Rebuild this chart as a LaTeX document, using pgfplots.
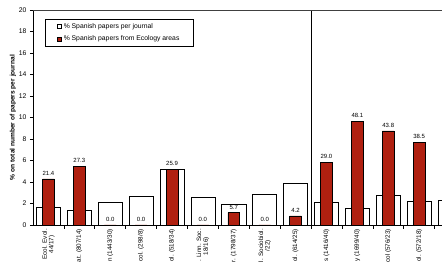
\documentclass[border=0pt]{standalone}
\usepackage{pgfplots}
\pgfplotsset{compat=1.18}
\usepackage{pgfplotstable}
\usepackage{fontspec}
\setmainfont{Liberation Sans}
\definecolor{barred}{RGB}{176,32,16}

\pgfplotstableread{
x w
0 1.64
1 1.36
2 2.07
3 2.69
4 5.20
5 2.56
6 1.94
7 2.84
8 3.86
9 2.15
10 1.55
11 2.75
12 2.25
13 2.30
}\whitedata

\pgfplotstableread{
x h lab
0 4.28 21.4
1 5.46 27.3
2 0.00 0.0
3 0.00 0.0
4 5.18 25.9
5 0.00 0.0
6 1.14 5.7
7 0.00 0.0
8 0.84 4.2
9 5.80 29.0
10 9.62 48.1
11 8.76 43.8
12 7.70 38.5
}\reddata

\begin{document}
\begin{tikzpicture}
\begin{axis}[
  at={(0pt,0pt)}, anchor=south west,
  scale only axis, width=409pt, height=215pt,
  xmin=-0.5, xmax=12.74, ymin=0, ymax=20,
  axis lines*=left, axis line style={-, line width=0.7pt, black},
  ytick={0,2,...,20},
  tick align=outside, major tick length=3pt,
  xtick={0,...,12},
  xticklabels={{Ecol. Evol.\\44/17)}, {at. (807/14)}, {n (1443/30)}, {col. (298/8)}, {ol. (518/34)}, {l. Linn. Soc.\\18/16)}, {r. (1798/37)}, {l. Sociobiol.\\/22)}, {ol. (614/25)}, {s (1416/40)}, {y (1699/40)}, {col (576/23)}, {ol. (572/18)}},
  major x tick style={draw=none},
  minor xtick={0.5,1.5,...,12.5},
  minor tick length=4pt,
  minor x tick style={draw=black, line width=0.6pt},
  y tick style={line width=0.6pt, black},
  /pgf/number format/assume math mode=true,
  yticklabel style={font=\fontsize{6.8}{8}\selectfont},
  xticklabel style={rotate=90, anchor=east, align=center, font=\fontsize{6.3}{6.6}\selectfont, inner sep=1pt},
  ylabel={\% on total number of papers per journal},
  ylabel style={at={(axis description cs:-0.049,0.5)}, anchor=center, font=\fontsize{6.6}{8}\selectfont\bfseries},
  legend style={at={(axis description cs:0.0293,0.958)}, anchor=north west, draw=black, line width=0.6pt, font=\fontsize{6.8}{7}\selectfont, row sep=2pt, inner xsep=12pt, inner ysep=2pt, legend cell align=left},
  clip=true,
]
\addplot[ybar, bar width=0.78, bar shift=0, draw=black, fill=white, line width=0.6pt,
  legend image code/.code={\draw[draw=black, fill=white, line width=0.5pt] (0pt,-2pt) rectangle (4pt,2pt);}]
  table[x=x, y=w] {\whitedata};
\addplot[ybar, bar width=0.38, bar shift=0, draw=black, fill=barred, line width=0.6pt,
  nodes near coords, point meta=explicit symbolic,
  every node near coord/.append style={font=\fontsize{6}{7}\selectfont, black},
  legend image code/.code={\draw[draw=black, fill=barred, line width=0.5pt] (0pt,-2pt) rectangle (4pt,2pt);}]
  table[x=x, y=h, meta=lab] {\reddata};
\draw[line width=1pt, black] (axis cs:8.5,0) -- (axis cs:8.5,20);
\legend{\% Spanish papers per journal, \% Spanish papers from Ecology areas}
\end{axis}
\draw[line width=0.7pt, black!75] (0pt,215pt) -- (409pt,215pt);
\pgfresetboundingbox
\useasboundingbox (-33pt,-37pt) rectangle (409pt,225pt);
\end{tikzpicture}
\end{document}
